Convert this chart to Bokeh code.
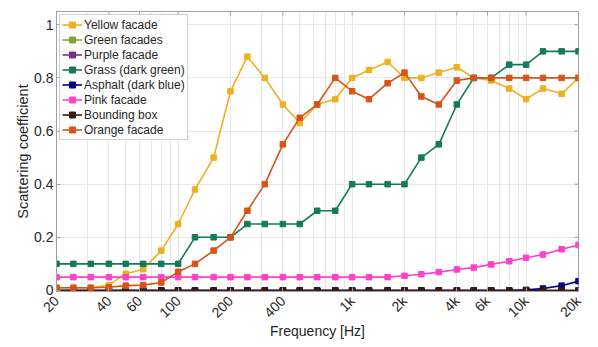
import math
from bokeh.plotting import figure
from bokeh.models import Range1d, FixedTicker, CustomJSTickFormatter, Legend, LegendItem
from bokeh.embed import file_html
from bokeh.resources import INLINE

freqs = [20, 25, 31.5, 40, 50, 63, 80, 100, 125, 160, 200, 250, 315, 400, 500, 630, 800,
         1000, 1250, 1600, 2000, 2500, 3150, 4000, 5000, 6300, 8000, 10000, 12500, 16000, 20000]

yellow = [0.01, 0.01, 0.01, 0.02, 0.063, 0.08, 0.15, 0.25, 0.38, 0.50, 0.75, 0.88, 0.80, 0.70,
          0.63, 0.70, 0.72, 0.80, 0.83, 0.86, 0.80, 0.80, 0.82, 0.84, 0.80, 0.79, 0.76, 0.72,
          0.76, 0.74, 0.80]
green_facades = [0.0] * 31
purple = [0.0] * 31
grass = [0.10, 0.10, 0.10, 0.10, 0.10, 0.10, 0.10, 0.10, 0.20, 0.20, 0.20, 0.25, 0.25, 0.25,
         0.25, 0.30, 0.30, 0.40, 0.40, 0.40, 0.40, 0.50, 0.55, 0.70, 0.80, 0.80, 0.85, 0.85,
         0.90, 0.90, 0.90]
asphalt = [0.0] * 27 + [0.002, 0.007, 0.018, 0.035]
pink = [0.05] * 20 + [0.055, 0.061, 0.069, 0.079, 0.086, 0.098, 0.110, 0.123, 0.135, 0.155, 0.171]
bounding = [0.0] * 31
orange = [0.01, 0.01, 0.01, 0.012, 0.018, 0.02, 0.03, 0.07, 0.10, 0.15, 0.20, 0.30, 0.40, 0.55,
          0.65, 0.70, 0.80, 0.75, 0.72, 0.78, 0.82, 0.73, 0.70, 0.79, 0.80, 0.80, 0.80, 0.80,
          0.80, 0.80, 0.80]

series = [
    ("Yellow facade", yellow, "#EDB120"),
    ("Green facades", green_facades, "#77AC30"),
    ("Purple facade", purple, "#7E2F8E"),
    ("Grass (dark green)", grass, "#137A5C"),
    ("Asphalt (dark blue)", asphalt, "#00008B"),
    ("Pink facade", pink, "#FF40C8"),
    ("Bounding box", bounding, "#3A1A14"),
    ("Orange facade", orange, "#D95319"),
]

x_ticks = [20, 40, 60, 100, 200, 400, 1000, 2000, 4000, 6000, 10000, 20000]
y_ticks = [0, 0.2, 0.4, 0.6, 0.8, 1.0]
minor_x = [m * d for d in (10, 100, 1000, 10000) for m in range(1, 10) if 20 <= m * d <= 20000]

X_MIN, X_MAX = 20, 20000
Y_MIN, Y_MAX = -0.004, 1.05

FONT = "Liberation Sans"
TXT = "#262626"
AX = "#a0a0a0"

p = figure(width=598, height=347, x_axis_type="log", output_backend="svg",
           toolbar_location=None, x_range=Range1d(X_MIN, X_MAX), y_range=Range1d(Y_MIN, Y_MAX),
           min_border_left=56, min_border_right=20, min_border_top=11, min_border_bottom=56)
p.outline_line_color = AX
p.background_fill_color = "white"
p.border_fill_color = "white"

xf = CustomJSTickFormatter(code="return tick >= 1000 ? (tick/1000) + 'k' : String(tick);")
yf = CustomJSTickFormatter(code="return String(Math.round(tick*10)/10);")

xa = p.xaxis[0]
xa.ticker = FixedTicker(ticks=x_ticks, minor_ticks=minor_x)
xa.formatter = xf
xa.major_label_orientation = math.pi / 4
xa.axis_label = "Frequency [Hz]"
ya = p.yaxis[0]
ya.ticker = FixedTicker(ticks=y_ticks)
ya.formatter = yf
ya.axis_label = "Scattering coefficient"
for a in (xa, ya):
    a.axis_line_color = AX
    a.major_tick_line_color = AX
    a.minor_tick_line_color = None
    a.major_tick_in = 4
    a.major_tick_out = 0
    a.major_label_text_font = FONT
    a.major_label_text_font_size = "14px"
    a.major_label_text_color = TXT
    a.axis_label_text_font = FONT
    a.axis_label_text_font_style = "normal"
    a.axis_label_text_color = TXT
xa.axis_label_text_font_size = "14px"
ya.axis_label_text_font_size = "14.5px"
xa.major_label_standoff = 3
xa.axis_label_standoff = -6
ya.major_label_standoff = 3
ya.axis_label_standoff = 0

p.xgrid.ticker = FixedTicker(ticks=minor_x)
p.xgrid.grid_line_color = "#e8e8e8"
p.ygrid.ticker = FixedTicker(ticks=y_ticks)
p.ygrid.grid_line_color = "#e8e8e8"

# inward ticks on the top and right edges of the box (half of each dash is clipped away)
p.scatter(x_ticks, [Y_MAX] * len(x_ticks), marker="dash", angle=math.pi / 2, size=8,
          line_color=AX, line_width=1)
p.scatter([X_MAX] * len(y_ticks), y_ticks, marker="dash", size=8, line_color=AX, line_width=1)

items = []
for name, vals, col in series:
    r1 = p.line(freqs, vals, line_color=col, line_width=1.6)
    r2 = p.scatter(freqs, vals, marker="square", size=5.5, fill_color=col, line_color=col)
    items.append(LegendItem(label=name, renderers=[r1, r2]))

legend = Legend(items=items, location="top_left", label_text_font=FONT,
                label_text_font_size="12px", label_text_color=TXT,
                label_height=15, glyph_height=15, glyph_width=20, spacing=0,
                padding=2, margin=3, label_standoff=2,
                border_line_color=AX, background_fill_alpha=1.0)
p.add_layout(legend)

open("out.html", "w").write(file_html(p, INLINE))
